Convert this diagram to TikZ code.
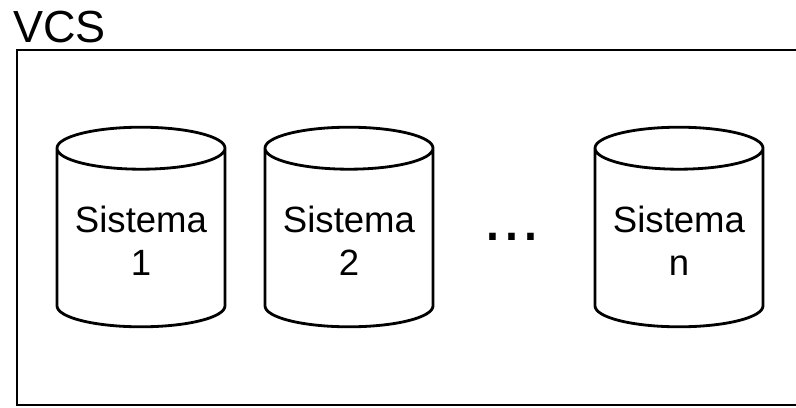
\documentclass[tikz,border=0pt]{standalone}
\usepackage{fontspec}
\setmainfont{Liberation Sans}
\usetikzlibrary{positioning}

\begin{document}
\begin{tikzpicture}[node distance=5.2cm,on grid,
      linha/.style={draw,line width=2pt},
      rotulo/.style={align=center,font=\fontsize{26}{30.5}\selectfont}]
      \clip (0,0) rectangle (19.9,10.175);
      \node[anchor=base west,inner sep=0pt,font=\fontsize{32}{36}\selectfont] (vcs) at (0.325,9.125) {VCS};
      \draw[linha] (0.425,8.925) rectangle (20.75,0.05);
      \coordinate (s_1) at (3.525,4.5);
      \coordinate[right=of s_1] (s_2);
      \coordinate[right=8.25cm of s_2] (s_n);
      % cilindros
      \foreach \s in {s_1,s_2,s_n}
        \draw[linha] ([yshift=1.97cm]\s) ellipse [x radius=2.1cm, y radius=0.525cm]
          ([shift={(-2.1cm,1.97cm)}]\s) -- ++(0,-3.94cm)
          arc [start angle=180, end angle=360, x radius=2.1cm, y radius=0.525cm] -- ++(0,3.94cm);
      \node[anchor=base,inner sep=0pt,font=\fontsize{48.4}{50}\selectfont] (dots) at (12.8,4.175) {...};
      \node[rotulo] (t_1) at ([yshift=-0.35cm]s_1) {Sistema\\1};
      \node[rotulo] (t_2) at ([yshift=-0.35cm]s_2) {Sistema\\2};
      \node[rotulo] (t_n) at ([yshift=-0.35cm]s_n) {Sistema\\n};
    \end{tikzpicture}
\end{document}
